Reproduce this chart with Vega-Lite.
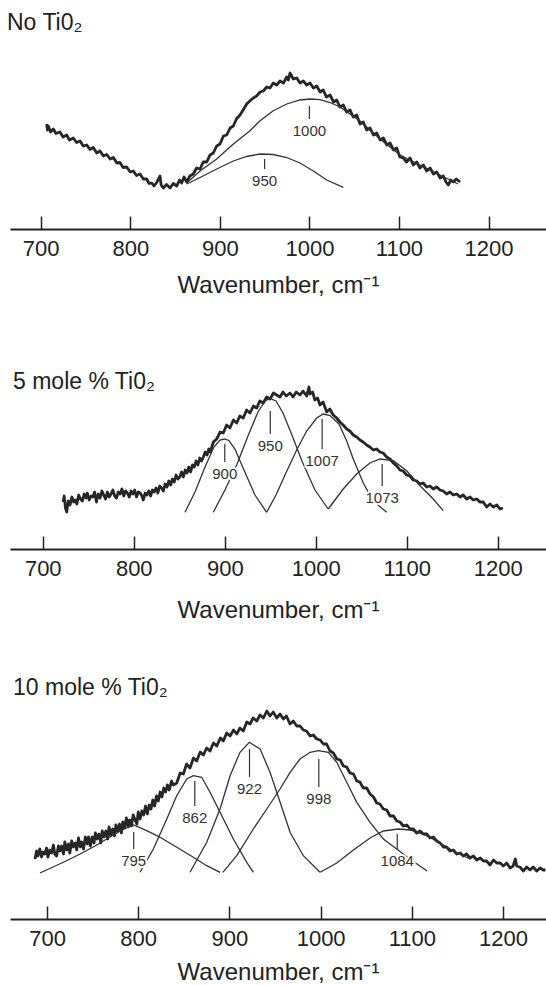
{
  "$schema": "https://vega.github.io/schema/vega-lite/v6.json",
  "padding": {"left": 7, "top": 12, "right": 0, "bottom": 0},
  "background": "white",
  "datasets": {
    "s1": [
      {"wn":706.7,"i":105},{"wn":707.5,"i":99},{"wn":708.5,"i":103},{"wn":711,"i":97},{"wn":714.1,"i":100},{"wn":717,"i":95.5},{"wn":721.5,"i":97},{"wn":725,"i":92},{"wn":729,"i":94},{"wn":732,"i":89},{"wn":736.4,"i":91},{"wn":740,"i":86.5},{"wn":743.9,"i":88},{"wn":747.5,"i":83},{"wn":751.4,"i":84},{"wn":755,"i":79.5},{"wn":758.7,"i":81.5},{"wn":762.5,"i":76},{"wn":766.2,"i":78},{"wn":770,"i":73},{"wn":773.7,"i":74.5},{"wn":777.5,"i":70},{"wn":781.1,"i":71.5},{"wn":785,"i":66},{"wn":788.5,"i":66.5},{"wn":792,"i":61.5},{"wn":796,"i":62},{"wn":800,"i":57},{"wn":803.4,"i":58},{"wn":807,"i":53.5},{"wn":810.9,"i":55},{"wn":814.5,"i":50},{"wn":818.4,"i":50},{"wn":821,"i":45.5},{"wn":823.9,"i":46},{"wn":826.5,"i":43},{"wn":829.5,"i":46.5},{"wn":833.2,"i":53},{"wn":834.5,"i":44},{"wn":836.9,"i":41},{"wn":840.5,"i":44.5},{"wn":844.4,"i":41},{"wn":848,"i":45.5},{"wn":851.9,"i":43},{"wn":855,"i":49},{"wn":857.4,"i":46},{"wn":860,"i":52},{"wn":863,"i":47},{"wn":866.5,"i":53},{"wn":870.4,"i":55},{"wn":874,"i":61},{"wn":877.9,"i":60},{"wn":881.5,"i":67},{"wn":885.4,"i":67},{"wn":889,"i":74},{"wn":892.7,"i":76},{"wn":896.5,"i":83},{"wn":900.2,"i":85},{"wn":904,"i":93},{"wn":907.7,"i":94},{"wn":911.5,"i":101},{"wn":915.1,"i":103},{"wn":918.5,"i":110},{"wn":922.5,"i":114},{"wn":926,"i":119},{"wn":930,"i":125},{"wn":933.5,"i":128},{"wn":937.4,"i":131},{"wn":941,"i":133},{"wn":944.9,"i":137},{"wn":948.5,"i":138},{"wn":952.4,"i":142},{"wn":956,"i":141},{"wn":959.7,"i":146},{"wn":963.5,"i":144},{"wn":967.2,"i":148},{"wn":971,"i":146},{"wn":974.7,"i":152},{"wn":976.5,"i":149},{"wn":978.4,"i":156},{"wn":982,"i":150},{"wn":985.9,"i":151},{"wn":989.5,"i":146},{"wn":993.2,"i":148},{"wn":997,"i":144},{"wn":1000.7,"i":146},{"wn":1004.5,"i":141},{"wn":1008.2,"i":143},{"wn":1012,"i":137},{"wn":1015.5,"i":139},{"wn":1019,"i":132},{"wn":1023,"i":134},{"wn":1027,"i":127},{"wn":1030.5,"i":129},{"wn":1034,"i":122},{"wn":1037.9,"i":124},{"wn":1041.5,"i":117},{"wn":1045.4,"i":119},{"wn":1049,"i":112},{"wn":1052.8,"i":114},{"wn":1056.5,"i":105},{"wn":1060.2,"i":107},{"wn":1064,"i":99},{"wn":1067.7,"i":101},{"wn":1071.5,"i":94},{"wn":1075.2,"i":96},{"wn":1079,"i":89},{"wn":1082.6,"i":91},{"wn":1086.5,"i":84},{"wn":1090,"i":86},{"wn":1094,"i":79},{"wn":1097.5,"i":81},{"wn":1101,"i":72},{"wn":1104.9,"i":71},{"wn":1108.5,"i":67},{"wn":1112.4,"i":71},{"wn":1116,"i":64},{"wn":1119.8,"i":67},{"wn":1123.5,"i":61},{"wn":1127.2,"i":64},{"wn":1131,"i":58},{"wn":1134.7,"i":61},{"wn":1138.5,"i":55},{"wn":1142.2,"i":57},{"wn":1146,"i":51},{"wn":1149.6,"i":53},{"wn":1152.5,"i":47},{"wn":1155.1,"i":44},{"wn":1158,"i":49},{"wn":1160.7,"i":47},{"wn":1164,"i":50},{"wn":1168.2,"i":47}
    ],
    "c1": [
      {"peak":950,"wn":863.0,"i":45},{"peak":950,"wn":877.9,"i":51.5},{"peak":950,"wn":896.5,"i":60},{"peak":950,"wn":915.1,"i":68},{"peak":950,"wn":930.0,"i":72.5},{"peak":950,"wn":944.9,"i":75},{"peak":950,"wn":959.7,"i":74.5},{"peak":950,"wn":974.7,"i":71.5},{"peak":950,"wn":989.5,"i":66},{"peak":950,"wn":1004.4,"i":58},{"peak":950,"wn":1019.3,"i":49},{"peak":950,"wn":1037.9,"i":41.7},
      {"peak":1000,"wn":863.0,"i":46},{"peak":1000,"wn":877.9,"i":58},{"peak":1000,"wn":896.5,"i":70},{"peak":1000,"wn":915.1,"i":85},{"peak":1000,"wn":933.7,"i":98.3},{"peak":1000,"wn":944.9,"i":108.3},{"peak":1000,"wn":959.7,"i":118.3},{"peak":1000,"wn":974.7,"i":125},{"peak":1000,"wn":989.5,"i":129},{"peak":1000,"wn":1000.7,"i":130},{"peak":1000,"wn":1011.9,"i":129.3},{"peak":1000,"wn":1023.0,"i":126.5},{"peak":1000,"wn":1034.2,"i":122},{"peak":1000,"wn":1056.5,"i":108},{"peak":1000,"wn":1078.8,"i":90},{"peak":1000,"wn":1101.2,"i":74},{"peak":1000,"wn":1123.5,"i":64},{"peak":1000,"wn":1145.8,"i":54},{"peak":1000,"wn":1165.9,"i":45}
    ],
    "a1": [
      {"wn":1000,"top":123,"bottom":110,"label":"1000"},
      {"wn":950,"top":70,"bottom":60,"label":"950"}
    ],
    "s2": [
      {"wn":722.5,"i":47},{"wn":723.5,"i":53},{"wn":725,"i":41},{"wn":726.3,"i":37},{"wn":728,"i":48},{"wn":730,"i":44},{"wn":732,"i":52},{"wn":734,"i":47},{"wn":736,"i":49},{"wn":737.5,"i":45},{"wn":739.5,"i":54},{"wn":741.5,"i":50},{"wn":743.5,"i":48},{"wn":745.5,"i":55},{"wn":747.5,"i":51},{"wn":749,"i":56},{"wn":751,"i":49},{"wn":753,"i":53},{"wn":755,"i":52},{"wn":757,"i":57},{"wn":759,"i":47},{"wn":761,"i":55},{"wn":763,"i":51},{"wn":765,"i":58},{"wn":767,"i":54},{"wn":769,"i":50},{"wn":771,"i":57},{"wn":773,"i":52},{"wn":775,"i":55},{"wn":777,"i":59},{"wn":779,"i":53},{"wn":781,"i":51},{"wn":783,"i":57},{"wn":785,"i":55},{"wn":787,"i":60},{"wn":789,"i":53},{"wn":791,"i":58},{"wn":793,"i":56},{"wn":795,"i":52},{"wn":797,"i":58},{"wn":799,"i":55},{"wn":801,"i":59},{"wn":803,"i":52},{"wn":805,"i":57},{"wn":807,"i":56},{"wn":809,"i":53},{"wn":810.5,"i":49},{"wn":812.5,"i":56},{"wn":814.5,"i":54},{"wn":816.5,"i":58},{"wn":818.5,"i":53},{"wn":820.5,"i":59},{"wn":822.5,"i":57},{"wn":824.5,"i":61},{"wn":826.5,"i":56},{"wn":828.5,"i":63},{"wn":830.5,"i":61},{"wn":832.5,"i":58},{"wn":834.5,"i":65},{"wn":836.5,"i":62},{"wn":838.5,"i":68},{"wn":840.5,"i":64},{"wn":842.5,"i":70},{"wn":844.5,"i":67},{"wn":846.5,"i":74},{"wn":848.5,"i":70},{"wn":850.5,"i":72},{"wn":852.5,"i":77},{"wn":854.5,"i":72},{"wn":856.5,"i":79},{"wn":858.5,"i":76},{"wn":860.5,"i":82},{"wn":862.5,"i":77},{"wn":864.5,"i":84},{"wn":866.5,"i":82},{"wn":868.5,"i":88},{"wn":870.5,"i":84},{"wn":872.5,"i":91},{"wn":874.5,"i":88},{"wn":876.5,"i":92},{"wn":878.5,"i":97},{"wn":880.5,"i":94},{"wn":882.5,"i":100},{"wn":884,"i":97},{"wn":887.5,"i":107},{"wn":891.1,"i":110},{"wn":895,"i":117},{"wn":898.4,"i":116},{"wn":902,"i":124},{"wn":905.7,"i":121},{"wn":909.5,"i":129},{"wn":913.1,"i":126},{"wn":916.5,"i":133},{"wn":920.3,"i":131},{"wn":924,"i":139},{"wn":927.7,"i":136},{"wn":931.5,"i":143},{"wn":935.1,"i":141},{"wn":938.5,"i":148},{"wn":942.3,"i":146},{"wn":946,"i":152},{"wn":949.7,"i":150},{"wn":953.5,"i":156},{"wn":957,"i":154},{"wn":960.7,"i":152},{"wn":964,"i":157},{"wn":967.5,"i":153},{"wn":971.7,"i":156},{"wn":975,"i":152},{"wn":978.5,"i":157},{"wn":982.7,"i":154},{"wn":986,"i":158},{"wn":990,"i":153},{"wn":992.5,"i":162},{"wn":993.7,"i":155},{"wn":996.5,"i":157},{"wn":999.1,"i":149},{"wn":1002,"i":151},{"wn":1004.6,"i":144},{"wn":1008,"i":147},{"wn":1012,"i":137},{"wn":1015.5,"i":140},{"wn":1019.2,"i":134},{"wn":1023,"i":131},{"wn":1026.6,"i":127},{"wn":1030,"i":124},{"wn":1034,"i":120},{"wn":1037.5,"i":118},{"wn":1041.2,"i":114},{"wn":1045,"i":112},{"wn":1048.6,"i":109},{"wn":1052,"i":107},{"wn":1055.9,"i":104},{"wn":1059.5,"i":102},{"wn":1063.2,"i":99},{"wn":1067,"i":100},{"wn":1070.5,"i":97},{"wn":1074,"i":96},{"wn":1077.9,"i":92},{"wn":1081.5,"i":90},{"wn":1085.2,"i":86},{"wn":1089,"i":83},{"wn":1092.5,"i":79},{"wn":1096,"i":78},{"wn":1099.9,"i":74},{"wn":1103.5,"i":73},{"wn":1107.1,"i":69},{"wn":1111,"i":68},{"wn":1114.5,"i":65},{"wn":1118,"i":66},{"wn":1121.9,"i":62},{"wn":1125.5,"i":63},{"wn":1129.1,"i":60},{"wn":1133,"i":62},{"wn":1136.5,"i":59},{"wn":1140,"i":58},{"wn":1143.8,"i":55},{"wn":1147.5,"i":57},{"wn":1151.1,"i":54},{"wn":1155,"i":55},{"wn":1158.5,"i":52},{"wn":1162,"i":54},{"wn":1165.8,"i":50},{"wn":1169.5,"i":52},{"wn":1173.1,"i":49},{"wn":1177,"i":50},{"wn":1180.4,"i":47},{"wn":1184,"i":47},{"wn":1187.8,"i":42},{"wn":1191.5,"i":45},{"wn":1195.1,"i":42},{"wn":1199,"i":44},{"wn":1202.4,"i":40},{"wn":1205.7,"i":41}
    ],
    "c2": [
      {"peak":900,"wn":856.3,"i":36.7},{"peak":900,"wn":867.3,"i":57},{"peak":900,"wn":878.3,"i":82},{"peak":900,"wn":888.1,"i":102},{"peak":900,"wn":894.7,"i":109},{"peak":900,"wn":899.7,"i":110},{"peak":900,"wn":904.6,"i":108.5},{"peak":900,"wn":911.2,"i":100},{"peak":900,"wn":921.1,"i":79},{"peak":900,"wn":933.2,"i":54},{"peak":900,"wn":946.0,"i":36.7},
      {"peak":950,"wn":887.4,"i":36.7},{"peak":950,"wn":900.2,"i":59},{"peak":950,"wn":913.1,"i":84},{"peak":950,"wn":925.5,"i":113},{"peak":950,"wn":936.5,"i":137},{"peak":950,"wn":944.2,"i":148},{"peak":950,"wn":949.7,"i":150.5},{"peak":950,"wn":956.3,"i":148},{"peak":950,"wn":964.0,"i":136},{"peak":950,"wn":973.8,"i":114},{"peak":950,"wn":984.8,"i":88},{"peak":950,"wn":999.1,"i":59},{"peak":950,"wn":1013.7,"i":40},
      {"peak":1007,"wn":946.0,"i":36.7},{"peak":1007,"wn":956.3,"i":54},{"peak":1007,"wn":967.2,"i":76},{"peak":1007,"wn":979.0,"i":99},{"peak":1007,"wn":990.0,"i":118},{"peak":1007,"wn":1001.0,"i":131},{"peak":1007,"wn":1008.2,"i":135},{"peak":1007,"wn":1015.6,"i":133.5},{"peak":1007,"wn":1025.5,"i":125},{"peak":1007,"wn":1034.0,"i":108},{"peak":1007,"wn":1041.2,"i":90},{"peak":1007,"wn":1052.2,"i":66},{"peak":1007,"wn":1063.2,"i":48},{"peak":1007,"wn":1077.9,"i":36.7},
      {"peak":1073,"wn":1013.7,"i":40},{"peak":1073,"wn":1030.2,"i":60},{"peak":1073,"wn":1044.9,"i":75},{"peak":1073,"wn":1059.5,"i":86},{"peak":1073,"wn":1070.5,"i":90},{"peak":1073,"wn":1085.2,"i":88.3},{"peak":1073,"wn":1099.9,"i":78.3},{"peak":1073,"wn":1114.5,"i":63.3},{"peak":1073,"wn":1129.1,"i":50},{"peak":1073,"wn":1140.1,"i":38.3}
    ],
    "a2": [
      {"wn":900,"top":105,"bottom":87,"label":"900"},
      {"wn":950,"top":138,"bottom":115,"label":"950"},
      {"wn":1007,"top":130,"bottom":100,"label":"1007"},
      {"wn":1073,"top":85,"bottom":63,"label":"1073"}
    ],
    "s3": [
      {"wn":686.8,"i":60},{"wn":688.5,"i":68},{"wn":690,"i":63},{"wn":692,"i":70},{"wn":694,"i":62},{"wn":695.5,"i":67},{"wn":697.5,"i":65},{"wn":699.5,"i":71},{"wn":701,"i":62},{"wn":703,"i":69},{"wn":705,"i":66},{"wn":707,"i":74},{"wn":708.5,"i":65},{"wn":710.5,"i":63},{"wn":712.5,"i":73},{"wn":714,"i":68},{"wn":716,"i":73},{"wn":718,"i":65},{"wn":719.5,"i":77},{"wn":721.5,"i":69},{"wn":723.5,"i":75},{"wn":725,"i":66},{"wn":727,"i":78},{"wn":729,"i":72},{"wn":731,"i":76},{"wn":732.5,"i":69},{"wn":734.5,"i":81},{"wn":736.5,"i":72},{"wn":738,"i":77},{"wn":740,"i":70},{"wn":742,"i":82},{"wn":744,"i":75},{"wn":745.5,"i":82},{"wn":747.5,"i":73},{"wn":749.5,"i":82},{"wn":751.5,"i":76},{"wn":753,"i":86},{"wn":755,"i":80},{"wn":757,"i":85},{"wn":759,"i":76},{"wn":760.5,"i":88},{"wn":762.5,"i":82},{"wn":764.5,"i":88},{"wn":766.5,"i":80},{"wn":768,"i":92},{"wn":770,"i":84},{"wn":772,"i":90},{"wn":774,"i":83},{"wn":775.5,"i":94},{"wn":777.5,"i":88},{"wn":779.5,"i":95},{"wn":781.5,"i":86},{"wn":783,"i":97},{"wn":785,"i":91},{"wn":787,"i":101},{"wn":789,"i":92},{"wn":790.5,"i":99},{"wn":792.5,"i":93},{"wn":794.5,"i":104},{"wn":796.5,"i":99},{"wn":798.5,"i":95},{"wn":800,"i":107},{"wn":802,"i":100},{"wn":804,"i":108},{"wn":806,"i":104},{"wn":808,"i":113},{"wn":810,"i":105},{"wn":812,"i":114},{"wn":814,"i":110},{"wn":816,"i":119},{"wn":818,"i":113},{"wn":820,"i":123},{"wn":822,"i":118},{"wn":824,"i":127},{"wn":826,"i":122},{"wn":828,"i":131},{"wn":830,"i":127},{"wn":832,"i":134},{"wn":834,"i":129},{"wn":836.5,"i":138},{"wn":838.5,"i":134},{"wn":842.2,"i":136},{"wn":846,"i":146},{"wn":849.5,"i":145},{"wn":853,"i":155},{"wn":856.8,"i":151},{"wn":860.5,"i":161},{"wn":864.1,"i":158},{"wn":868,"i":167},{"wn":871.4,"i":164},{"wn":875,"i":171},{"wn":878.7,"i":168},{"wn":882.5,"i":176},{"wn":886.1,"i":173},{"wn":890,"i":181},{"wn":893.3,"i":178},{"wn":897,"i":186},{"wn":900.7,"i":183},{"wn":904.5,"i":189},{"wn":908,"i":185},{"wn":911.5,"i":191},{"wn":915.2,"i":188},{"wn":919,"i":197},{"wn":922.6,"i":195},{"wn":926,"i":201},{"wn":930,"i":198},{"wn":933.5,"i":204},{"wn":937.2,"i":201},{"wn":941,"i":208},{"wn":944.5,"i":203},{"wn":948,"i":207},{"wn":951.9,"i":201},{"wn":955.5,"i":205},{"wn":959.1,"i":200},{"wn":962.5,"i":203},{"wn":966.4,"i":195},{"wn":970,"i":198},{"wn":973.8,"i":193},{"wn":977.5,"i":193},{"wn":981,"i":189},{"wn":984.5,"i":188},{"wn":988.4,"i":183},{"wn":992,"i":184},{"wn":995.7,"i":180},{"wn":999.5,"i":179},{"wn":1003,"i":175},{"wn":1006.5,"i":175},{"wn":1010.3,"i":168},{"wn":1014,"i":166},{"wn":1017.7,"i":160},{"wn":1021.5,"i":159},{"wn":1024.9,"i":153},{"wn":1028.5,"i":152},{"wn":1032.2,"i":146},{"wn":1036,"i":145},{"wn":1039.6,"i":138},{"wn":1043,"i":137},{"wn":1046.8,"i":131},{"wn":1050.5,"i":131},{"wn":1054.2,"i":125},{"wn":1058,"i":122},{"wn":1061.5,"i":116},{"wn":1065,"i":115},{"wn":1068.8,"i":110},{"wn":1072.5,"i":109},{"wn":1076.1,"i":103},{"wn":1080,"i":103},{"wn":1083.4,"i":98},{"wn":1087,"i":97},{"wn":1090.7,"i":93},{"wn":1094.5,"i":94},{"wn":1098,"i":90},{"wn":1101.5,"i":90},{"wn":1105.4,"i":86},{"wn":1109,"i":88},{"wn":1112.6,"i":85},{"wn":1116.5,"i":85},{"wn":1120,"i":81},{"wn":1123.5,"i":82},{"wn":1127.3,"i":78},{"wn":1131,"i":76},{"wn":1134.5,"i":72},{"wn":1138,"i":72},{"wn":1141.9,"i":68},{"wn":1145.5,"i":69},{"wn":1149.2,"i":65},{"wn":1153,"i":66},{"wn":1156.5,"i":63},{"wn":1160,"i":65},{"wn":1163.8,"i":61},{"wn":1167.5,"i":63},{"wn":1171.2,"i":59},{"wn":1175,"i":61},{"wn":1178.4,"i":58},{"wn":1182,"i":58},{"wn":1185.7,"i":54},{"wn":1189.5,"i":59},{"wn":1193.1,"i":56},{"wn":1197,"i":56},{"wn":1200.3,"i":53},{"wn":1204,"i":56},{"wn":1207.7,"i":51},{"wn":1211,"i":53},{"wn":1213.5,"i":60},{"wn":1215,"i":53},{"wn":1218.5,"i":52},{"wn":1222.3,"i":48},{"wn":1226,"i":52},{"wn":1229.6,"i":49},{"wn":1233,"i":52},{"wn":1237,"i":48},{"wn":1240.5,"i":51},{"wn":1244.2,"i":49},{"wn":1246.5,"i":49}
    ],
    "c3": [
      {"peak":795,"wn":692.3,"i":46},{"peak":795,"wn":706.6,"i":52},{"peak":795,"wn":720.8,"i":58},{"peak":795,"wn":736.2,"i":65},{"peak":795,"wn":752.6,"i":73},{"peak":795,"wn":769.1,"i":82},{"peak":795,"wn":782.2,"i":89},{"peak":795,"wn":795.0,"i":94},{"peak":795,"wn":809.3,"i":88.3},{"peak":795,"wn":824.0,"i":81.7},{"peak":795,"wn":842.2,"i":71.7},{"peak":795,"wn":860.4,"i":61.7},{"peak":795,"wn":875.1,"i":53.3},{"peak":795,"wn":889.7,"i":46.7},
      {"peak":862,"wn":802.0,"i":46.7},{"peak":862,"wn":816.6,"i":70},{"peak":862,"wn":831.3,"i":100},{"peak":862,"wn":842.2,"i":123.3},{"peak":862,"wn":853.2,"i":140},{"peak":862,"wn":860.4,"i":143.3},{"peak":862,"wn":869.6,"i":141.7},{"peak":862,"wn":878.7,"i":126.7},{"peak":862,"wn":889.7,"i":106.7},{"peak":862,"wn":904.3,"i":80},{"peak":862,"wn":919.0,"i":56.7},{"peak":862,"wn":926.2,"i":46.7},
      {"peak":922,"wn":856.8,"i":46.7},{"peak":922,"wn":875.1,"i":76.7},{"peak":922,"wn":889.7,"i":110},{"peak":922,"wn":900.7,"i":143.3},{"peak":922,"wn":911.6,"i":166.7},{"peak":922,"wn":921.8,"i":176.7},{"peak":922,"wn":933.6,"i":170},{"peak":922,"wn":944.5,"i":146.7},{"peak":922,"wn":951.9,"i":126.7},{"peak":922,"wn":966.5,"i":86.7},{"peak":922,"wn":981.0,"i":63.3},{"peak":922,"wn":999.3,"i":46.7},
      {"peak":998,"wn":892.8,"i":46.7},{"peak":998,"wn":908.0,"i":63.3},{"peak":998,"wn":926.2,"i":90},{"peak":998,"wn":940.9,"i":110},{"peak":998,"wn":955.5,"i":130},{"peak":998,"wn":966.5,"i":146.7},{"peak":998,"wn":977.4,"i":160},{"peak":998,"wn":988.4,"i":166.7},{"peak":998,"wn":997.5,"i":168.3},{"peak":998,"wn":1008.5,"i":166.7},{"peak":998,"wn":1017.7,"i":156.7},{"peak":998,"wn":1028.6,"i":136.7},{"peak":998,"wn":1039.6,"i":116.7},{"peak":998,"wn":1054.2,"i":96.7},{"peak":998,"wn":1068.8,"i":80},{"peak":998,"wn":1083.4,"i":70},{"peak":998,"wn":1097.8,"i":60},{"peak":998,"wn":1116.7,"i":48},
      {"peak":1084,"wn":999.3,"i":46.7},{"peak":1084,"wn":1017.7,"i":56},{"peak":1084,"wn":1035.9,"i":69},{"peak":1084,"wn":1054.2,"i":81},{"peak":1084,"wn":1068.8,"i":88},{"peak":1084,"wn":1085.2,"i":90},{"peak":1084,"wn":1098.0,"i":89},{"peak":1084,"wn":1114.5,"i":84},{"peak":1084,"wn":1130.9,"i":76},{"peak":1084,"wn":1147.4,"i":67},{"peak":1084,"wn":1163.8,"i":60}
    ],
    "a3": [
      {"wn":795,"top":87,"bottom":70,"label":"795"},
      {"wn":862,"top":138,"bottom":113,"label":"862"},
      {"wn":922,"top":170,"bottom":142,"label":"922"},
      {"wn":998,"top":160,"bottom":132,"label":"998"},
      {"wn":1084,"top":85,"bottom":70,"label":"1084"}
    ]
  },
  "vconcat": [
    {
      "width": 536, "height": 190,
      "title": {"text": "No Ti0₂", "offset": 4, "dx": -3},
      "encoding": {"x": {"field": "wn", "type": "quantitative", "title": "Wavenumber, cm⁻¹", "scale": {"domain": [665.7, 1264.2], "nice": false, "zero": false}, "axis": {"values": [700, 800, 900, 1000, 1100, 1200], "format": "d", "titlePadding": 14}}},
      "layer": [
        {"data": {"name": "s1"}, "mark": {"type": "line", "color": "#262626", "strokeWidth": 2.8, "strokeJoin": "round"}, "encoding": {"y": {"field": "i", "type": "quantitative", "scale": {"domain": [0, 190], "nice": false, "zero": false}, "axis": null}}},
        {"data": {"name": "c1"}, "mark": {"type": "line", "color": "#333333", "strokeWidth": 1.3}, "encoding": {"y": {"field": "i", "type": "quantitative", "scale": {"domain": [0, 190], "nice": false, "zero": false}, "axis": null}, "detail": {"field": "peak", "type": "nominal"}}},
        {"data": {"name": "a1"}, "mark": {"type": "rule", "color": "#333333", "strokeWidth": 1.2}, "encoding": {"y": {"field": "top", "type": "quantitative", "scale": {"domain": [0, 190], "nice": false, "zero": false}, "axis": null}, "y2": {"field": "bottom"}}},
        {"data": {"name": "a1"}, "mark": {"type": "text", "dy": 12, "baseline": "middle", "fontSize": 15, "color": "white", "stroke": "white", "strokeWidth": 4}, "encoding": {"y": {"field": "bottom", "type": "quantitative", "scale": {"domain": [0, 190], "nice": false, "zero": false}, "axis": null}, "text": {"field": "label"}}},
        {"data": {"name": "a1"}, "mark": {"type": "text", "dy": 12, "baseline": "middle", "fontSize": 15, "color": "#333333"}, "encoding": {"y": {"field": "bottom", "type": "quantitative", "scale": {"domain": [0, 190], "nice": false, "zero": false}, "axis": null}, "text": {"field": "label"}}}
      ]
    },
    {
      "width": 536, "height": 162,
      "title": {"text": "5 mole % Ti0₂", "offset": -8, "dx": 3},
      "encoding": {"x": {"field": "wn", "type": "quantitative", "title": "Wavenumber, cm⁻¹", "scale": {"domain": [664.0, 1253.0], "nice": false, "zero": false}, "axis": {"values": [700, 800, 900, 1000, 1100, 1200], "format": "d", "titlePadding": 19}}},
      "layer": [
        {"data": {"name": "s2"}, "mark": {"type": "line", "color": "#262626", "strokeWidth": 2.8, "strokeJoin": "round"}, "encoding": {"y": {"field": "i", "type": "quantitative", "scale": {"domain": [0, 162], "nice": false, "zero": false}, "axis": null}}},
        {"data": {"name": "c2"}, "mark": {"type": "line", "color": "#333333", "strokeWidth": 1.3}, "encoding": {"y": {"field": "i", "type": "quantitative", "scale": {"domain": [0, 162], "nice": false, "zero": false}, "axis": null}, "detail": {"field": "peak", "type": "nominal"}}},
        {"data": {"name": "a2"}, "mark": {"type": "rule", "color": "#333333", "strokeWidth": 1.2}, "encoding": {"y": {"field": "top", "type": "quantitative", "scale": {"domain": [0, 162], "nice": false, "zero": false}, "axis": null}, "y2": {"field": "bottom"}}},
        {"data": {"name": "a2"}, "mark": {"type": "text", "dy": 12, "baseline": "middle", "fontSize": 15, "color": "white", "stroke": "white", "strokeWidth": 4}, "encoding": {"y": {"field": "bottom", "type": "quantitative", "scale": {"domain": [0, 162], "nice": false, "zero": false}, "axis": null}, "text": {"field": "label"}}},
        {"data": {"name": "a2"}, "mark": {"type": "text", "dy": 12, "baseline": "middle", "fontSize": 15, "color": "#333333"}, "encoding": {"y": {"field": "bottom", "type": "quantitative", "scale": {"domain": [0, 162], "nice": false, "zero": false}, "axis": null}, "text": {"field": "label"}}}
      ]
    },
    {
      "width": 536, "height": 212,
      "title": {"text": "10 mole % Ti0₂", "offset": 7, "dx": 3},
      "encoding": {"x": {"field": "wn", "type": "quantitative", "title": "Wavenumber, cm⁻¹", "scale": {"domain": [659.4, 1247.1], "nice": false, "zero": false}, "axis": {"values": [700, 800, 900, 1000, 1100, 1200], "format": "d", "titlePadding": 11}}},
      "layer": [
        {"data": {"name": "s3"}, "mark": {"type": "line", "color": "#262626", "strokeWidth": 2.8, "strokeJoin": "round"}, "encoding": {"y": {"field": "i", "type": "quantitative", "scale": {"domain": [0, 212], "nice": false, "zero": false}, "axis": null}}},
        {"data": {"name": "c3"}, "mark": {"type": "line", "color": "#333333", "strokeWidth": 1.3}, "encoding": {"y": {"field": "i", "type": "quantitative", "scale": {"domain": [0, 212], "nice": false, "zero": false}, "axis": null}, "detail": {"field": "peak", "type": "nominal"}}},
        {"data": {"name": "a3"}, "mark": {"type": "rule", "color": "#333333", "strokeWidth": 1.2}, "encoding": {"y": {"field": "top", "type": "quantitative", "scale": {"domain": [0, 212], "nice": false, "zero": false}, "axis": null}, "y2": {"field": "bottom"}}},
        {"data": {"name": "a3"}, "mark": {"type": "text", "dy": 12, "baseline": "middle", "fontSize": 15, "color": "white", "stroke": "white", "strokeWidth": 4}, "encoding": {"y": {"field": "bottom", "type": "quantitative", "scale": {"domain": [0, 212], "nice": false, "zero": false}, "axis": null}, "text": {"field": "label"}}},
        {"data": {"name": "a3"}, "mark": {"type": "text", "dy": 12, "baseline": "middle", "fontSize": 15, "color": "#333333"}, "encoding": {"y": {"field": "bottom", "type": "quantitative", "scale": {"domain": [0, 212], "nice": false, "zero": false}, "axis": null}, "text": {"field": "label"}}}
      ]
    }
  ],
  "spacing": 158,
  "bounds": "flush",
  "config": {
    "font": "Liberation Sans",
    "view": {"stroke": null},
    "axis": {"grid": false, "domainColor": "#222222", "domainWidth": 2, "tickColor": "#222222", "tickSize": -13, "tickWidth": 1.5, "labelFontSize": 22, "labelColor": "#222222", "labelPadding": 22, "labelFlush": false, "labelOverlap": false, "titleFontSize": 24, "titleFontWeight": "normal", "titleColor": "#222222"},
    "title": {"anchor": "start", "frame": "group", "baseline": "alphabetic", "fontSize": 23, "fontWeight": "normal", "color": "#222222"},
    "text": {"font": "Liberation Sans"}
  }
}
